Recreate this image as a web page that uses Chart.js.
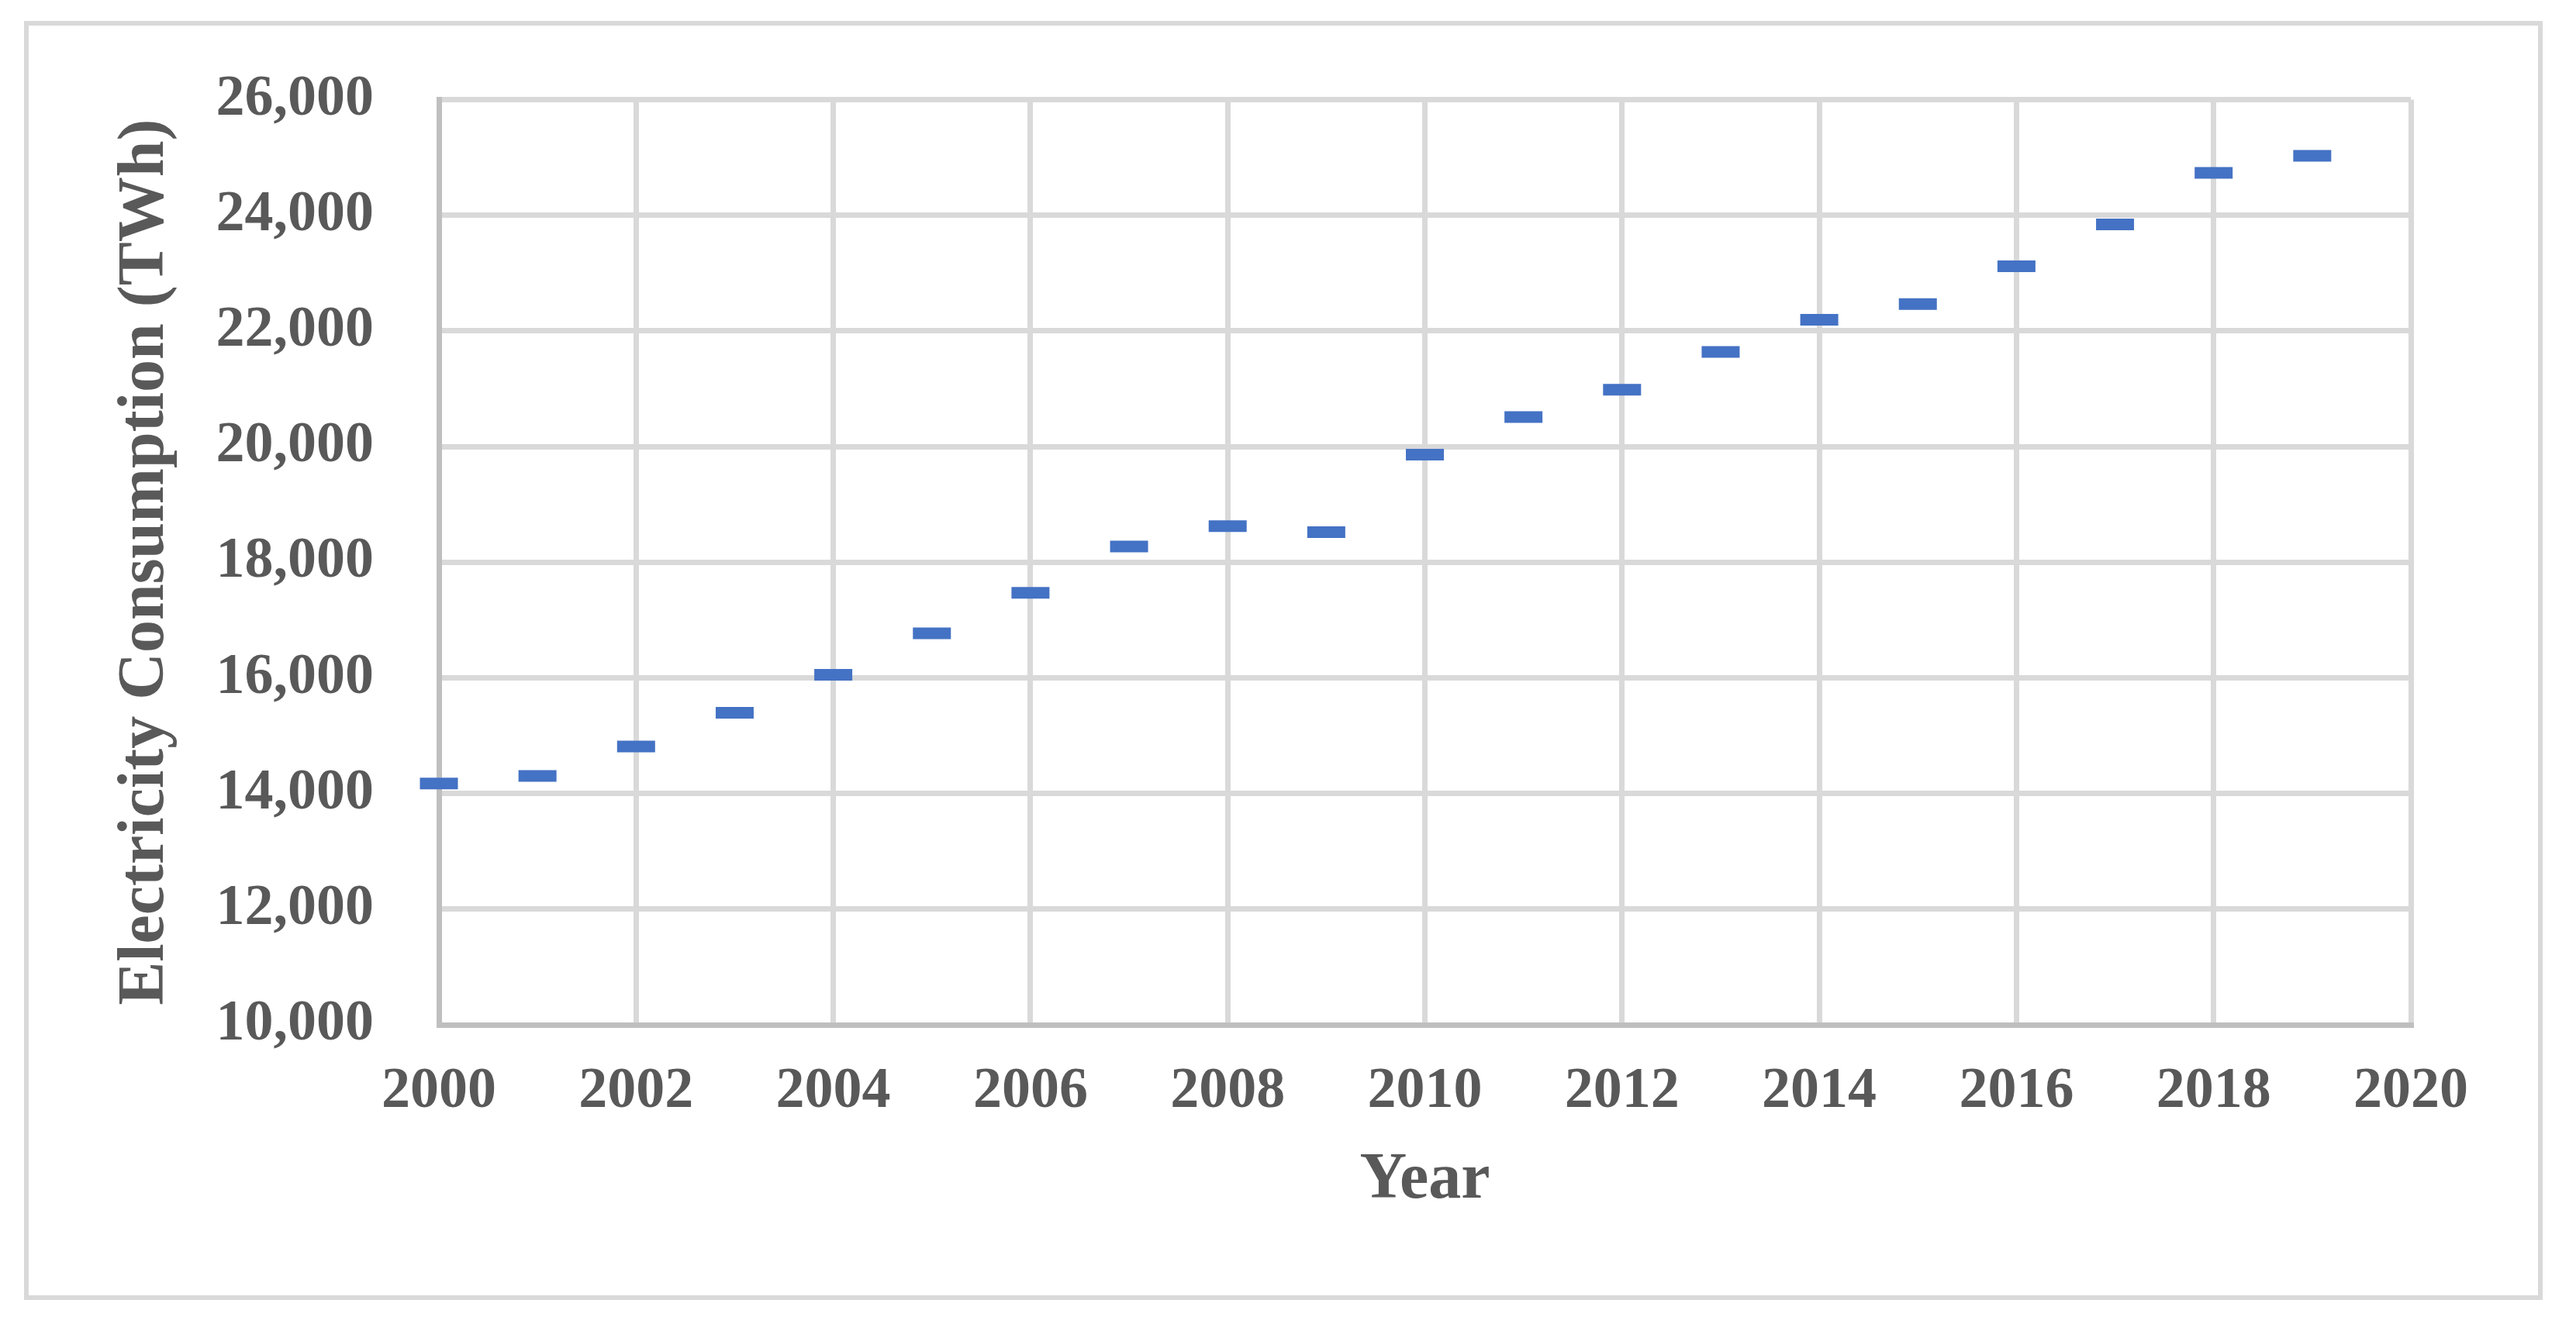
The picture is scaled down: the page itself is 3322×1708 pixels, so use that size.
<!DOCTYPE html>
<html>
<head>
<meta charset="utf-8">
<script src="https://cdn.jsdelivr.net/npm/chart.js@4/dist/chart.umd.min.js"></script>
<style>
  html, body { margin: 0; padding: 0; background: #ffffff; }
  canvas { display: block; }
</style>
</head>
<body>
<canvas id="c" width="3322" height="1708"></canvas>
<script>
const years = [2000, 2001, 2002, 2003, 2004, 2005, 2006, 2007, 2008, 2009,
               2010, 2011, 2012, 2013, 2014, 2015, 2016, 2017, 2018, 2019];
const consumption = [14173, 14303, 14813, 15396, 16053, 16769, 17471, 18271, 18622, 18520,
                     19858, 20511, 20982, 21636, 22191, 22462, 23116, 23840, 24733, 25027];
const xTickValues = [2000, 2002, 2004, 2006, 2008, 2010, 2012, 2014, 2016, 2018, 2020];
const yTickValues = [10000, 12000, 14000, 16000, 18000, 20000, 22000, 24000, 26000];
const xTitle = 'Year';
const yTitle = 'Electricity Consumption (TWh)';

const textColor = '#595959';
const fontFamily = '"Liberation Serif", "Times New Roman", serif';

const outerBorder = {
  id: 'outerBorder',
  beforeDraw(chart) {
    const ctx = chart.ctx;
    ctx.save();
    ctx.fillStyle = '#ffffff';
    ctx.fillRect(0, 0, chart.width, chart.height);
    ctx.strokeStyle = '#d9d9d9';
    ctx.lineWidth = 6;
    ctx.strokeRect(34, 30, 3242, 1644);
    ctx.restore();
  }
};

const points = years.map((y, i) => ({ x: y, y: consumption[i] }));

new Chart(document.getElementById('c'), {
  type: 'scatter',
  data: {
    datasets: [{
      data: points,
      showLine: false,
      clip: false,
      pointStyle: 'line',
      pointRadius: 24.5,
      pointHoverRadius: 24.5,
      pointBorderWidth: 15,
      pointHoverBorderWidth: 15,
      borderColor: '#4472C4',
      backgroundColor: '#4472C4'
    }]
  },
  options: {
    responsive: false,
    devicePixelRatio: 1,
    animation: false,
    events: [],
    layout: { padding: { left: 0, top: 122, right: 213, bottom: 0 } },
    plugins: {
      legend: { display: false },
      tooltip: { enabled: false }
    },
    scales: {
      x: {
        type: 'linear',
        min: 2000,
        max: 2020,
        afterBuildTicks(scale) { scale.ticks = xTickValues.map(v => ({ value: v })); },
        afterFit(scale) { scale.height = 386; },
        ticks: {
          padding: 42,
          color: textColor,
          font: { family: fontFamily, size: 74, weight: 'bold' },
          maxRotation: 0,
          autoSkip: false,
          callback: (v) => String(v)
        },
        grid: { color: '#d9d9d9', lineWidth: 7, drawTicks: false },
        border: { display: true, color: '#bfbfbf', width: 7 },
        title: {
          display: true,
          text: xTitle,
          color: textColor,
          font: { family: fontFamily, size: 84, weight: 'bold' },
          padding: { top: 0, bottom: 134 }
        }
      },
      y: {
        type: 'linear',
        min: 10000,
        max: 26000,
        afterBuildTicks(scale) { scale.ticks = yTickValues.map(v => ({ value: v })); },
        afterFit(scale) { scale.width = 566; },
        ticks: {
          padding: 84,
          color: textColor,
          font: { family: fontFamily, size: 74, weight: 'bold' },
          autoSkip: false,
          callback: (v) => Number(v).toLocaleString('en-US')
        },
        grid: { color: '#d9d9d9', lineWidth: 7, drawTicks: false },
        border: { display: true, color: '#bfbfbf', width: 7 },
        title: {
          display: true,
          text: yTitle,
          color: textColor,
          font: { family: fontFamily, size: 84, weight: 'bold' },
          padding: { top: 138, bottom: 0 }
        }
      }
    }
  },
  plugins: [outerBorder]
});
</script>
</body>
</html>
